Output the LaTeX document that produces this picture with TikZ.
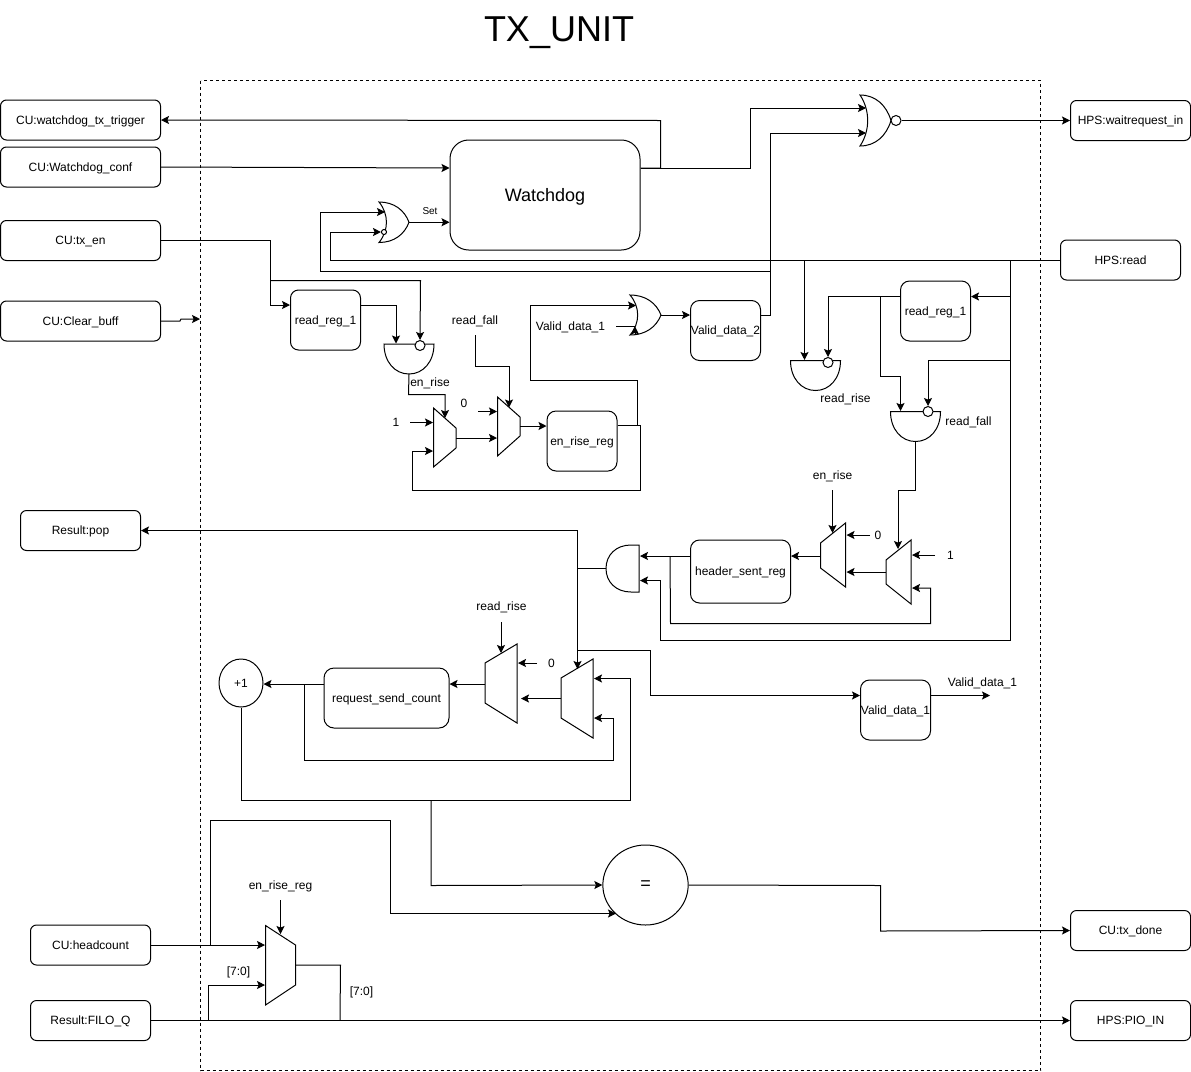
\documentclass[tikz,border=0pt]{standalone}
\usepackage{fontspec}
\setmainfont{Liberation Sans}
\usetikzlibrary{arrows.meta,shapes.geometric}
\newcommand{\bx}[7]{\node[rbox,rounded corners=#6*.75pt,minimum width=#4*.75pt,minimum height=#5*.75pt] (#1) at (#2,#3) {#7};}
\newcommand{\orshape}[5]{\begin{scope}[shift={(#2,#3)},xscale=#4,yscale=#5]
\draw[gate] (0,0) .. controls (.5,0) and (.85,.2) .. (1,.5) .. controls (.85,.8) and (.5,1) .. (0,1) .. controls (.33,.7) and (.33,.3) .. cycle;
\coordinate (#1) at (1,.5);
\end{scope}}
\newcommand{\andshape}[3]{\begin{scope}[shift={(#2,#3)}]
\draw[gate] (0,0) -- (50,0) .. controls (50,18) and (39,30) .. (25,30) .. controls (11,30) and (0,18) .. (0,0) -- cycle;
\coordinate (#1) at (25,30);
\end{scope}}
\begin{document}
\begin{tikzpicture}[x=.75pt,y=-.75pt,
  line width=.75pt,
  rbox/.style={draw,inner sep=0pt,align=center,text height=6.5pt,text depth=.5pt,font=\fontsize{9}{11}\selectfont},
  lab/.style={inner sep=0pt,text height=6.5pt,text depth=.5pt,font=\fontsize{9}{11}\selectfont},
  gate/.style={draw,fill=white,line join=miter},
  bub/.style={circle,draw,fill=white,inner sep=0pt,minimum size=7.5pt},
  wire/.style={draw,line join=miter},
  arr/.style={wire,-{Stealth[length=6pt,width=6pt,inset=1.2pt]}}]
\useasboundingbox (0,0) rectangle (1191,1071);

% title and frame
\node[inner sep=0pt,font=\fontsize{27}{30}\selectfont] (title) at (559,33) {TX\_UNIT};
\draw[dash pattern=on 2.25pt off 2.25pt] (200.5,80.5) rectangle (1040.5,1070.5);

% outside boxes
\bx{trig}{80.5}{120}{160}{40}{6}{CU:watchdog\_tx\_trigger}
\bx{conf}{80.5}{167}{160}{40}{6}{CU:Watchdog\_conf}
\bx{txen}{80.5}{240.5}{160}{40}{6}{CU:tx\_en}
\bx{clr}{80.5}{321}{160}{40}{6}{CU:Clear\_buff}
\bx{pop}{80.5}{530.5}{120}{40}{6}{Result:pop}
\bx{head}{90.5}{945}{120}{40}{6}{CU:headcount}
\bx{filo}{90.5}{1020.5}{120}{40}{6}{Result:FILO\_Q}
\bx{wait}{1130.5}{120.5}{120}{40}{6}{HPS:waitrequest\_in}
\bx{hread}{1120.5}{260}{120}{40}{6}{HPS:read}
\bx{done}{1130.5}{930.5}{120}{40}{6}{CU:tx\_done}
\bx{pio}{1130.5}{1020.5}{120}{40}{6}{HPS:PIO\_IN}

% registers
\node[draw,inner sep=0pt,rounded corners=14pt,minimum width=142.5pt,minimum height=82.5pt,text height=10pt,text depth=0pt,font=\fontsize{13.5}{15}\selectfont] (wd) at (545,195) {Watchdog};
\bx{rega}{325.5}{320}{70}{60}{8}{read\_reg\_1}
\bx{vd2}{725.5}{330.5}{70}{60}{9}{Valid\_data\_2}
\bx{regb}{935.5}{311}{70}{60}{9}{read\_reg\_1}
\bx{enreg}{582}{441}{70}{60}{9}{en\_rise\_reg}
\bx{hdr}{740.5}{571.5}{100}{63}{9}{header\_sent\_reg}
\bx{rsc}{386.5}{698}{125}{60}{10}{request\_send\_count}
\bx{vd1}{895.5}{710}{70}{60}{9}{Valid\_data\_1}
\node[ellipse,draw,inner sep=0pt,minimum width=33pt,minimum height=36pt,font=\fontsize{9}{11}\selectfont] (inc) at (241,683) {+1};
\node[ellipse,draw,inner sep=0pt,minimum width=64pt,minimum height=60pt,font=\fontsize{13.5}{15}\selectfont] (eq) at (645.5,885) {=};

% logic gates
\orshape{nor}{860}{95}{31}{51}
\node[bub] (norb) at (896,120.5) {};
\orshape{ors}{379}{202}{30}{40.5}
\node[bub,minimum size=3.8pt] (orsb) at (384,232) {};
\orshape{orv}{630}{295}{31}{40}
\andshape{anda}{384}{344}
\node[bub] (andab) at (420,345.5) {};
\andshape{andr}{790.5}{360.5}
\node[bub] (andrb) at (828,362.5) {};
\andshape{andf}{890.5}{411.5}
\node[bub] (andfb) at (928,411.5) {};
\draw[gate] (639,545) -- (631,545) .. controls (616,545) and (606,555) .. (606,568.5) .. controls (606,582) and (616,592) .. (631,592) -- (639,592) -- cycle;
\coordinate (andh) at (606,568.5);

% multiplexers
\draw[gate] (433.5,408) -- (456,428) -- (456,448) -- (433.5,467) -- cycle;
\draw[gate] (497.5,397) -- (520,417) -- (520,436) -- (497.5,456) -- cycle;
\draw[gate] (845.5,523) -- (820.5,543) -- (820.5,568) -- (845.5,587) -- cycle;
\draw[gate] (911,540) -- (886,560) -- (886,584) -- (911,604) -- cycle;
\draw[gate] (517,644) -- (485,663) -- (485,703) -- (517,723) -- cycle;
\draw[gate] (593,659) -- (561,678) -- (561,718) -- (593,738) -- cycle;
\draw[gate] (265.5,925.5) -- (295.5,945) -- (295.5,985) -- (265.5,1005) -- cycle;

% ports and junctions
\coordinate (jwd) at (640,168);
\coordinate (jr) at (1010,260);
\coordinate (jhc) at (210.5,945);
\coordinate (jfilo) at (208,1020.5);
\coordinate (jq) at (340,1020.5);
\coordinate (jtx) at (270.5,280.5);
\coordinate (jen) at (638,425.5);
\coordinate (jhdr) at (670,556);
\coordinate (jrsc) at (304.5,684);
\coordinate (jinc) at (431,800);
\coordinate (jand) at (577.5,568.5);
\coordinate (jv) at (577.5,650);
\coordinate (jrb) at (880.5,296.5);

% top section
\draw[arr] (conf.east) -- (wd.west |- 0,168);
\draw[arr] (wd.east |- jwd) -- (660.5,168) -- (660.5,120.5) -- (trig.east);
\draw[arr] (wd.east |- jwd) -- (750.5,168) -- (750.5,108) -- (866,108);
\draw[arr] (vd2.east |- 0,315) -- (770.5,315) -- (770.5,133) -- (866,133);
\draw[arr] (norb.east) -- (wait.west);
\draw[arr] (ors) -- (wd.west |- ors);
\node[lab,font=\fontsize{7.5}{9}\selectfont] (setl) at (430,210) {Set};
\draw[arr] (770.5,271.5) -- (320.5,271.5) -- (320.5,212) -- (385,212);
\draw[arr] (hread.west) -- (330.5,260) -- (330.5,232) -- (orsb.west);
\draw[arr] (txen.east) -- (270.5,240.5) -- (270.5,305) -- (rega.west |- 0,305);
\draw[arr] (jtx) -- (420.5,280.5) -- (andab.north);
\draw[arr] (rega.east |- 0,305) -- (396,305) -- (396,343.5);
\draw[arr] (clr.east) -- (180,321) -- (181,319) -- (200,319);

% en_rise section
\draw[arr] (anda) -- (408.5,394.5) -- (445,394.5) -- (445,418);
\node[lab] (lenrise) at (430,382) {en\_rise};
\node[lab] (lonea) at (396,422) {1};
\coordinate (ona) at (410,422.5);
\draw[arr] (ona) -- (433,422.5);
\draw[arr] (enreg.east |- jen) -- (640.5,425.5) -- (640.5,490.5) -- (412.5,490.5) -- (412.5,451) -- (433,451);
\draw[arr] (456,438) -- (497,438);
\node[lab] (lzeroa) at (464,403) {0};
\coordinate (zea) at (478,411.5);
\draw[arr] (zea) -- (497,411.5);
\draw[arr] (520,426) -- (enreg.west |- 0,426);
\node[lab] (lrf) at (475,320) {read\_fall};
\coordinate (srf) at (475.5,335);
\draw[arr] (srf) -- (475.5,366.5) -- (509,366.5) -- (509,407.5);
\draw[arr] (enreg.east |- jen) -- (637.5,425.5) -- (637.5,380.5) -- (530.5,380.5) -- (530.5,305.5) -- (636,305.5);
\node[lab] (lvd) at (570.5,326) {Valid\_data\_1};
\coordinate (svd) at (616,326.5);
\draw[wire] (svd) -- (635,326.5);
\draw[arr] (635,335) -- (635,326.5);
\draw[arr] (orv) -- (vd2.west |- orv);

% read section
\draw[wire] (1010.5,260) -- (1010.5,640.5) -- (660.5,640.5);
\draw[arr] (660.5,640.5) -- (660.5,580.5) -- (640,580.5);
\draw[arr] (1010.5,296.5) -- (regb.east |- 0,296.5);
\draw[arr] (804.5,260) -- (804.5,360);
\draw[arr] (regb.west |- 0,296.5) -- (828,296.5) -- (andrb.north);
\draw[arr] (jrb) -- (880.5,376.5) -- (900.5,376.5) -- (900.5,411);
\draw[arr] (1010.5,360.5) -- (928,360.5) -- (andfb.north);
\node[lab] (lrr) at (845.5,398.5) {read\_rise};
\node[lab] (lrf2) at (968.5,421.5) {read\_fall};

% header section
\draw[arr] (andf) -- (915.5,490.5) -- (898,490.5) -- (898,549);
\coordinate (onb) at (935,555);
\draw[arr] (onb) -- (912,555);
\node[lab] (loneb) at (950.5,555) {1};
\node[lab] (lenr2) at (832.5,475) {en\_rise};
\coordinate (senr) at (832.5,490);
\draw[arr] (senr) -- (832.5,533);
\coordinate (zeb) at (870,535);
\draw[arr] (zeb) -- (846.5,535);
\node[lab] (lzerob) at (878,535) {0};
\draw[arr] (886,572) -- (846.5,572);
\draw[arr] (820.5,556) -- (hdr.east |- 0,556);
\draw[arr] (hdr.west |- jhdr) -- (640,556);
\draw[arr] (jhdr) -- (670.5,623.5) -- (930.5,623.5) -- (930.5,588) -- (912,588);
\draw[wire] (andh) -- (jand);
\draw[arr] (577.5,530.5) -- (pop.east);
\draw[arr] (577.5,530.5) -- (577.5,669);
\draw[arr] (jv) -- (650.5,650) -- (650.5,695.5) -- (vd1.west |- 0,695.5);
\coordinate (ovd) at (990,695.5);
\draw[arr] (vd1.east |- ovd) -- (ovd);
\node[lab] (lvd3) at (982.5,682) {Valid\_data\_1};

% count section
\node[lab] (lrr2) at (501.5,606) {read\_rise};
\coordinate (srr) at (501,622);
\draw[arr] (srr) -- (501,653);
\coordinate (zec) at (537,663);
\draw[arr] (zec) -- (518,663);
\node[lab] (lzeroc) at (551.5,663) {0};
\draw[arr] (561,698.5) -- (521,698.5);
\draw[arr] (485,684) -- (rsc.east |- 0,684);
\draw[arr] (rsc.west |- jrsc) -- (inc.east |- jrsc);
\draw[arr] (jrsc) -- (304.5,760.5) -- (613.5,760.5) -- (613.5,718) -- (594,718);
\draw[arr] (inc.south) -- (241,800) -- (630.5,800) -- (630.5,678.5) -- (594,678.5);
\draw[arr] (jinc) -- (431,885.5) -- (eq.west);

% bottom section
\draw[arr] (head.east) -- (265,945);
\draw[arr] (jhc) -- (210.5,820.5) -- (390.5,820.5) -- (390.5,913.5) -- (616,913.5);
\node[lab] (lerr) at (280.5,885) {en\_rise\_reg};
\coordinate (serr) at (280.5,900);
\draw[arr] (serr) -- (280.5,934);
\draw[arr] (jfilo) -- (208,985) -- (265,985);
\draw[wire] (295.5,965) -- (340.5,965) -- (jq);
\node[lab] (lba) at (238.5,971) {[7:0]};
\node[lab] (lbb) at (361.5,991) {[7:0]};
\draw[arr] (filo.east) -- (pio.west);
\draw[arr] (eq.east) -- (880.5,885.5) -- (880.5,931) -- (done.west);
\end{tikzpicture}
\end{document}
